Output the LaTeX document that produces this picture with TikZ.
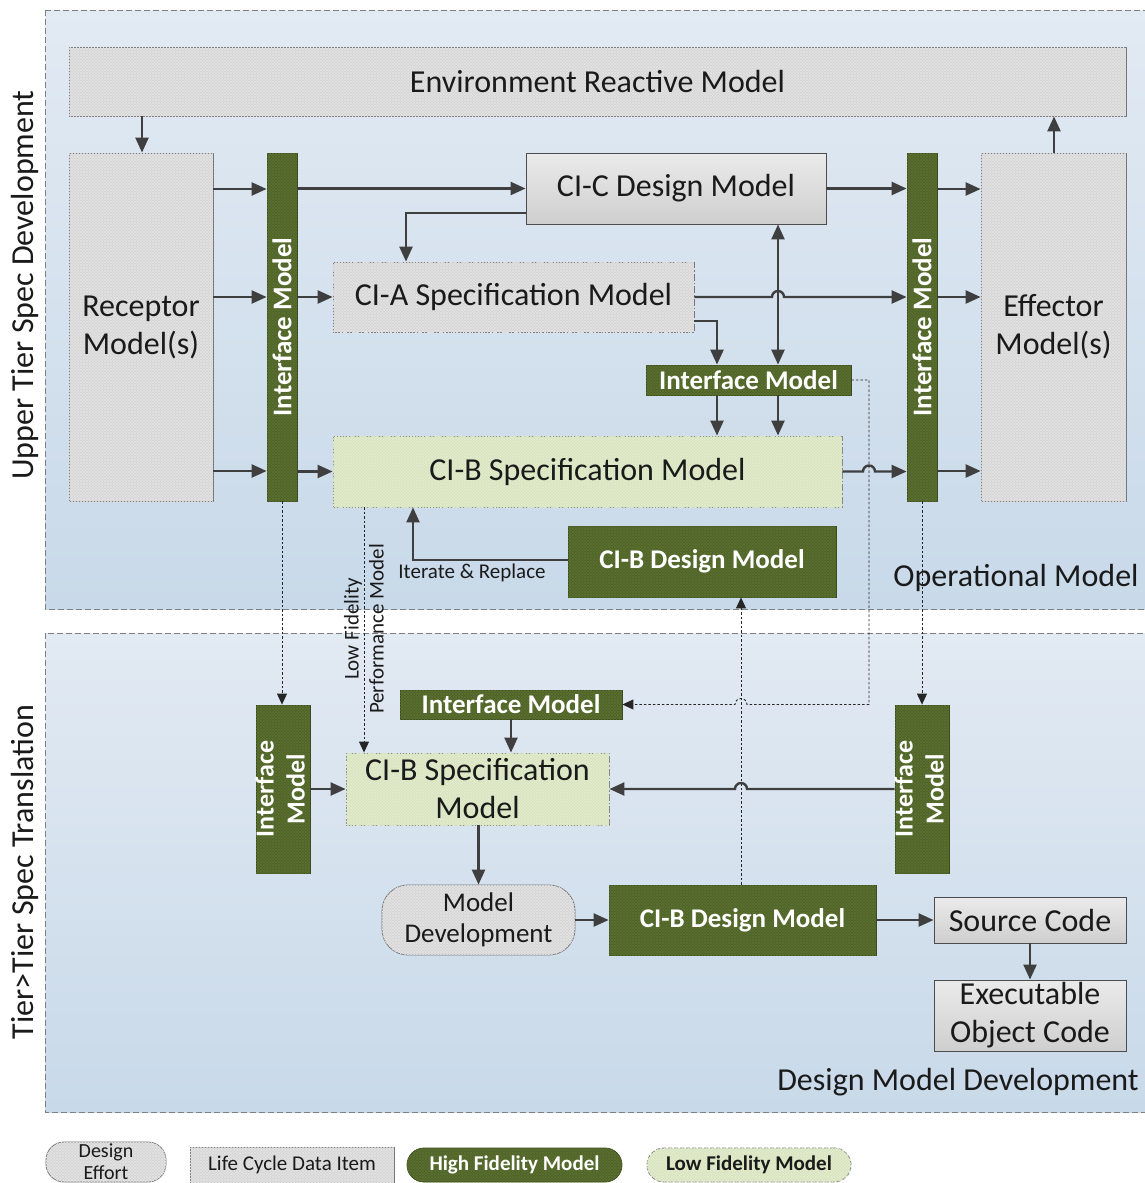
\documentclass[tikz,border=0pt]{standalone}
\usepackage{fontspec}
\setmainfont{Carlito}
\usepackage{graphicx}
\usetikzlibrary{arrows.meta,patterns}
\definecolor{paneltop}{HTML}{E2EAF3}
\definecolor{panelbot}{HTML}{C8D9E9}
\definecolor{panelline}{HTML}{7F7F7F}
\definecolor{boxgray}{HTML}{D4D4D4}
\definecolor{hatchgray}{HTML}{E3E3E3}
\definecolor{boxline}{HTML}{6E6E6E}
\definecolor{hfgreen}{HTML}{4F6228}
\definecolor{hfhatch}{HTML}{5B7030}
\definecolor{hfline}{HTML}{3A4A1C}
\definecolor{lfgreen}{HTML}{D7E4BD}
\definecolor{lfhatch}{HTML}{E2ECCF}
\definecolor{arrc}{HTML}{3F3F3F}
\definecolor{txt}{HTML}{1A1A1A}
\newcommand\fsz[2]{\fontsize{#1}{#2}\selectfont}
\tikzset{
  hatch/.style={postaction={pattern=north east lines, pattern color=#1},
                postaction={pattern=north west lines, pattern color=#1}},
  panel/.style={draw=panelline, line width=0.9pt, dash pattern=on 6pt off 3pt,
                top color=paneltop, bottom color=panelbot},
  gbox/.style={draw=boxline, fill=boxgray, line width=0.8pt, inner sep=0pt,
               align=center, text=txt, font=\fsz{32}{38}, hatch=hatchgray},
  dgbox/.style={gbox, dash pattern=on 7pt off 2pt on 1.5pt off 2pt},
  cbox/.style={draw=boxline!70!black, line width=0.9pt, inner sep=0pt, align=center,
               text=txt, font=\fsz{32}{38}, top color=gray!16, bottom color=gray!38},
  hbox/.style={draw=hfline, fill=hfgreen, line width=0.8pt, inner sep=0pt,
               align=center, text=white, font=\bfseries\fsz{27}{32}, hatch=hfhatch},
  lbox/.style={draw=gray, fill=lfgreen, line width=0.9pt, inner sep=0pt,
               align=center, text=txt, font=\fsz{32}{38}, hatch=lfhatch,
               dash pattern=on 7pt off 2pt on 1.5pt off 2pt},
  arr/.style={draw=arrc, line width=2.4pt, -{Triangle[length=15pt,width=13pt]}},
  arrtwo/.style={draw=arrc, line width=2.4pt, {Triangle[length=15pt,width=13pt]}-{Triangle[length=15pt,width=13pt]}},
  dotarr/.style={draw=black!85, line width=0.9pt, dash pattern=on 2.5pt off 2pt,
                 -{Triangle[length=11pt,width=10pt]}},
  lbl/.style={text=txt, inner sep=0pt},
}
\begin{document}
\begin{tikzpicture}[x=1pt,y=-1pt]
\useasboundingbox (0,0) rectangle (1145,1183);
\fill[white] (0,0) rectangle (1145,1183);
% panels
\path[panel] (45,10) rectangle (1150,609);
\path[panel] (45,633) rectangle (1150,1112);
\node[lbl, rotate=90, font=\fsz{32}{38}] (lup) at (25,285) {Upper Tier Spec Development};
\node[lbl, rotate=90, font=\fsz{32}{38}] (llow) at (25,872) {Tier>Tier Spec Translation};
\node[lbl, font=\fsz{32}{38}] (opm) at (1016,578) {Operational Model};
\node[lbl, font=\fsz{32}{38}] (dmd) at (958,1082) {Design Model Development};

% upper nodes
\node[gbox, minimum width=1057pt, minimum height=69pt] (env) at (597.5,81.5) {Environment Reactive Model};
\node[gbox, minimum width=144pt, minimum height=348pt] (rec) at (141,327) {Receptor\\Model(s)};
\node[hbox, minimum width=30pt, minimum height=348pt] (lbar) at (282,327) {\rotatebox{90}{Interface Model}};
\node[cbox, minimum width=300pt, minimum height=71pt] (cic) at (676,188.5) {CI-C Design Model};
\node[dgbox, minimum width=361pt, minimum height=70pt] (cia) at (513.5,297) {CI-A Specification Model};
\node[hbox, minimum width=205pt, minimum height=30pt] (ifs) at (748.5,380) {Interface Model};
\node[lbox, minimum width=509pt, minimum height=71pt] (cibs) at (587.5,471.5) {CI-B Specification Model};
\node[hbox, minimum width=268pt, minimum height=71pt] (cibd) at (702,561.5) {CI-B Design Model};
\node[hbox, minimum width=30pt, minimum height=348pt] (rbar) at (922,327) {\rotatebox{90}{Interface Model}};
\node[gbox, minimum width=145pt, minimum height=348pt] (eff) at (1053.5,327) {Effector\\Model(s)};

% lower nodes
\node[hbox, minimum width=54pt, minimum height=168pt, font=\bfseries\fsz{26}{31}] (ill) at (283,789) {\makebox[0pt]{\rotatebox{90}{\begin{tabular}{@{}c@{}}Interface\\Model\end{tabular}}}};
\node[hbox, minimum width=222pt, minimum height=29pt] (ifl) at (511,704.5) {Interface Model};
\node[lbox, minimum width=263pt, minimum height=72pt] (cibl) at (477.5,789) {CI-B Specification\\Model};
\node[hbox, minimum width=54pt, minimum height=168pt, font=\bfseries\fsz{26}{31}] (irl) at (922,789) {\makebox[0pt]{\rotatebox{90}{\begin{tabular}{@{}c@{}}Interface\\Model\end{tabular}}}};
\node[gbox, rounded corners=26pt, minimum width=193pt, minimum height=70pt, font=\fsz{27}{31}] (md) at (478.5,920) {Model\\Development};
\node[hbox, minimum width=267pt, minimum height=70pt] (cibdl) at (742.5,920) {CI-B Design Model};
\node[cbox, minimum width=192pt, minimum height=46pt] (src) at (1030,920) {Source Code};
\node[cbox, minimum width=192pt, minimum height=71pt] (exe) at (1030,1015.5) {Executable\\Object Code};

% legend
\node[gbox, rounded corners=18pt, minimum width=120pt, minimum height=40pt, font=\fsz{20}{22}] (lg1) at (106,1162) {Design\\Effort};
\node[gbox, minimum width=204pt, minimum height=36pt, font=\fsz{21}{24}] (lg2) at (292,1165) {Life Cycle Data Item};
\node[hbox, rounded corners=17pt, minimum width=215pt, minimum height=34pt, font=\bfseries\fsz{21}{24}] (lg3) at (514.5,1165) {High Fidelity Model};
\node[lbox, rounded corners=17pt, minimum width=204pt, minimum height=34pt, font=\bfseries\fsz{21}{24}, dash pattern=on 4pt off 2pt] (lg4) at (749,1165) {Low Fidelity Model};

% helper coordinates
\coordinate (ya) at (0,189);
\coordinate (yb) at (0,297);
\coordinate (yc) at (0,471);
\coordinate (yd) at (0,213);
\coordinate (ye) at (0,321);
\coordinate (yf) at (0,560);
\coordinate (xa) at (406,0);
\coordinate (xb) at (717,0);
\coordinate (vx) at (778,0);
\coordinate (xc) at (869,0);
\coordinate (xd) at (413,0);
\coordinate (xe) at (741,0);
\coordinate (xf) at (364,0);
\coordinate (xg) at (1054,0);
\coordinate (xh) at (142,0);

% upper arrows
\draw[arr] (xh |- env.south) -- (xh |- rec.north);
\draw[arr] (xg |- eff.north) -- (xg |- env.south);
\foreach \yy in {ya,yb,yc}{
  \draw[arr] (rec.east |- \yy) -- (lbar.west |- \yy);
  \draw[arr] (rbar.east |- \yy) -- (eff.west |- \yy);
}
\draw[arr] (lbar.east |- cic.west) -- (cic.west);
\draw[arr] (lbar.east |- cia.west) -- (cia.west);
\draw[arr] (lbar.east |- cibs.west) -- (cibs.west);
\draw[arr] (cic.east) -- (rbar.west |- cic.east);
\draw[arr] (cic.west |- yd) -| (xa |- cia.north);
\draw[arr] (cia.east) -- ([xshift=-6pt]vx |- cia.east) arc[start angle=180, end angle=0, radius=6pt] -- (rbar.west |- cia.east);
\draw[arr] (cia.east |- ye) -| (xb |- ifs.north);
\draw[arrtwo] (vx |- cic.south) -- (vx |- ifs.north);
\draw[arr] (xb |- ifs.south) -- (xb |- cibs.north);
\draw[arr] (vx |- ifs.south) -- (vx |- cibs.north);
\draw[arr] (cibs.east) -- ([xshift=-6pt]xc |- cibs.east) arc[start angle=180, end angle=0, radius=6pt] -- (rbar.west |- cibs.east);
\draw[arr] (cibd.west |- yf) -| (xd |- cibs.south);
\node[lbl, font=\fsz{21}{25}] (itr) at (472,573) {Iterate \& Replace};

% dotted cross-panel links
\draw[dotarr] (ifs.east) -| (xc |- ifl.east) -- ([xshift=6pt]xe |- ifl.east) arc[start angle=0, end angle=180, radius=6pt] -- (ifl.east);
\draw[dotarr] (lbar.south) -- (lbar.south |- ill.north);
\draw[dotarr] (rbar.south) -- (rbar.south |- irl.north);
\draw[dotarr] (xf |- cibs.south) -- (xf |- cibl.north);
\node[lbl, rotate=90, align=center, font=\fsz{21}{25}] (lfp) at (364,629) {Low Fidelity\\Performance Model};
\draw[dotarr] (xe |- cibdl.north) -- (xe |- cibd.south);

% lower arrows
\draw[arr] (ill.east |- cibl.west) -- (cibl.west);
\draw[arr] (irl.west) -- ([xshift=6pt]xe |- irl.west) arc[start angle=0, end angle=180, radius=6pt] -- (cibl.east |- irl.west);
\draw[arr] (ifl.south) -- (ifl.south |- cibl.north);
\draw[arr] (md.north |- cibl.south) -- (md.north);
\draw[arr] (md.east) -- (cibdl.west);
\draw[arr] (cibdl.east) -- (src.west);
\draw[arr] (src.south) -- (exe.north);
\end{tikzpicture}
\end{document}
